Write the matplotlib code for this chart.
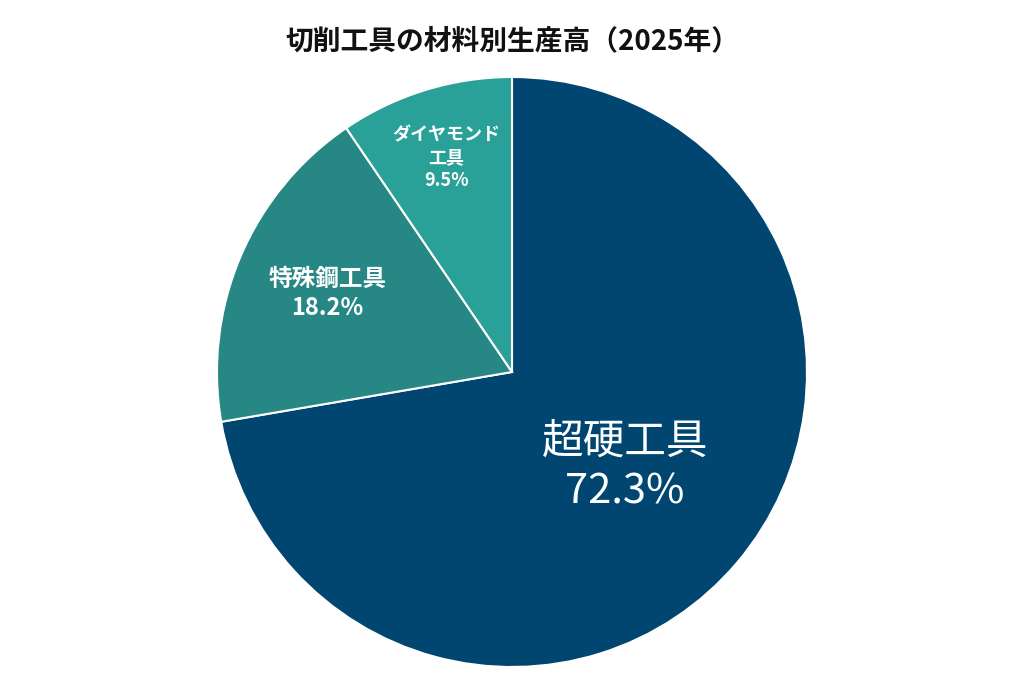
import matplotlib
matplotlib.use("Agg")
import matplotlib.pyplot as plt
import numpy as np

plt.rcParams['font.family'] = ['Noto Sans CJK JP', 'DejaVu Sans']

labels = ['超硬工具', '特殊鋼工具', 'ダイヤモンド\n工具']
values = [72.3, 18.2, 9.5]
colors = ['#004670', '#268784', '#2AA198']
label_r = [0.50, 0.68, 0.76]
label_size = [30, 17, 13]

fig = plt.figure(figsize=(10.24, 6.82), dpi=100)
ax = fig.add_axes([(512-295)/1024, 15/682, 590/1024, 590/682])
wedges, _ = ax.pie(values, colors=colors, startangle=90, counterclock=False,
                   wedgeprops=dict(edgecolor='white', linewidth=1.5))
for w, lab, v, r, s in zip(wedges, labels, values, label_r, label_size):
    ang = np.deg2rad((w.theta1 + w.theta2) / 2)
    ax.text(r*np.cos(ang), r*np.sin(ang), f'{lab}\n{v}%', ha='center', va='center',
            color='white', fontsize=s, fontweight='bold' if s < 20 else 'normal',
            linespacing=1.25)
ax.set_xlim(-1, 1); ax.set_ylim(-1, 1)
fig.text(0.5, 0.94, '切削工具の材料別生産高（2025年）', ha='center', va='center',
         fontsize=20, fontweight='bold', color='#111111')
fig.savefig('out.png', dpi=100)
